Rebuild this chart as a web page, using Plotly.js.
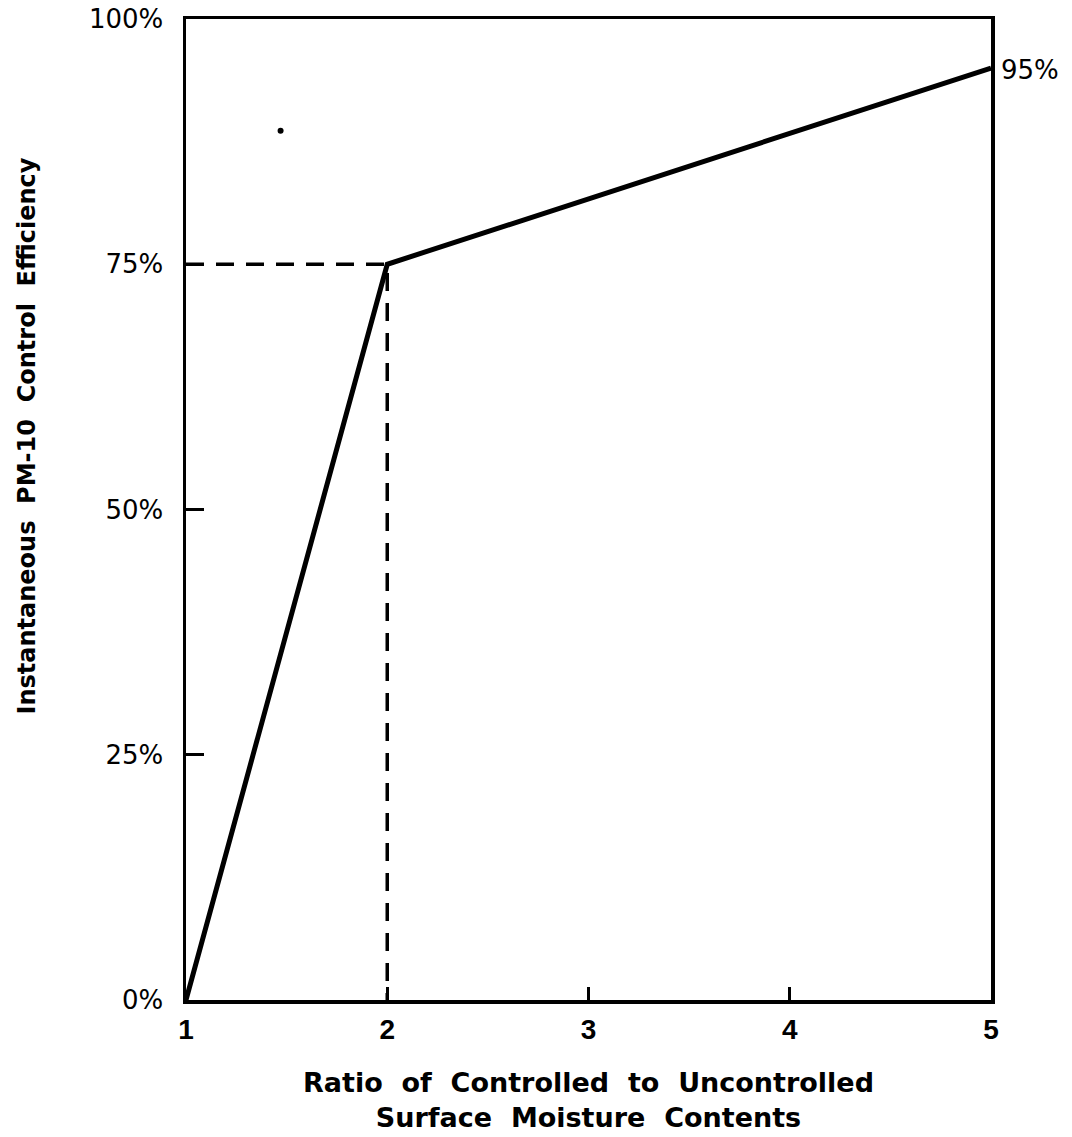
<!DOCTYPE html>
<html>
<head>
<meta charset="utf-8">
<script src="https://cdn.plot.ly/plotly-3.0.1.min.js"></script>
<style>html,body{margin:0;padding:0;background:#fff;}#chart{width:1072px;height:1137px;}</style>
</head>
<body>
<div id="chart"></div>
<script>
// Data
const ratio = [1, 2, 5];
const efficiency = [0, 75, 95];
const kneeX = 2;
const kneeY = 75;
const xTicks = [1, 2, 3, 4, 5];
const yTicks = [0, 25, 50, 75, 100];
const yTickLabels = ['0%', '25%', '50%', '75%', '100%'];
const endLabel = '95%';
const strayDotX = [1.47];
const strayDotY = [88.6];

const FONT = 'DejaVu Sans, Arial, Helvetica, sans-serif';
const FONT_NARROW = 'Liberation Sans, Arial, Helvetica, sans-serif';

const traces = [
  {
    x: [ratio[0], kneeX, kneeX],
    y: [kneeY, kneeY, efficiency[0]],
    mode: 'lines',
    line: {color: '#000', width: 3.5, dash: '18px,12px'},
    hoverinfo: 'skip'
  },
  {
    x: ratio,
    y: efficiency,
    mode: 'lines',
    line: {color: '#000', width: 5},
    cliponaxis: false
  },
  {
    x: strayDotX,
    y: strayDotY,
    mode: 'markers',
    marker: {color: '#000', size: 6},
    hoverinfo: 'skip'
  }
];

const layout = {
  width: 1072,
  height: 1137,
  margin: {l: 186, r: 81, t: 19, b: 137},
  paper_bgcolor: '#fff',
  plot_bgcolor: '#fff',
  showlegend: false,
  font: {family: FONT, color: '#000'},
  xaxis: {
    range: [1, 5],
    tickvals: xTicks,
    ticktext: xTicks.map(String),
    ticks: 'inside',
    ticklen: 13,
    tickwidth: 3,
    tickcolor: '#000',
    showline: true,
    linecolor: '#000',
    linewidth: 3.5,
    mirror: true,
    showgrid: false,
    zeroline: false,
    tickfont: {family: FONT_NARROW, size: 28, weight: 'bold'},
    ticklabelstandoff: 2,
    title: {
      text: 'Ratio  of  Controlled  to  Uncontrolled<br>Surface  Moisture  Contents',
      font: {family: FONT, size: 27, weight: 'bold'},
      standoff: 30
    }
  },
  yaxis: {
    range: [0, 100],
    tickvals: yTicks,
    ticktext: yTickLabels,
    ticks: 'inside',
    ticklen: 18,
    tickwidth: 3,
    tickcolor: '#000',
    showline: true,
    linecolor: '#000',
    linewidth: 3.5,
    mirror: true,
    showgrid: false,
    zeroline: false,
    tickfont: {family: FONT, size: 26},
    ticklabelstandoff: 14
  },
  annotations: [
    {
      text: endLabel,
      x: ratio[2], y: efficiency[2],
      xref: 'x', yref: 'y',
      xanchor: 'left', yanchor: 'middle',
      xshift: 8, yshift: -2,
      showarrow: false,
      font: {family: FONT, size: 26}
    },
    {
      text: 'Instantaneous  PM-10  Control  Efficiency',
      xref: 'paper', yref: 'paper',
      x: -0.198, y: 0.575,
      xanchor: 'center', yanchor: 'middle',
      textangle: -90,
      showarrow: false,
      font: {family: FONT, size: 24, weight: 'bold'}
    }
  ]
};

Plotly.newPlot('chart', traces, layout, {displayModeBar: false, staticPlot: true});
</script>
</body>
</html>
